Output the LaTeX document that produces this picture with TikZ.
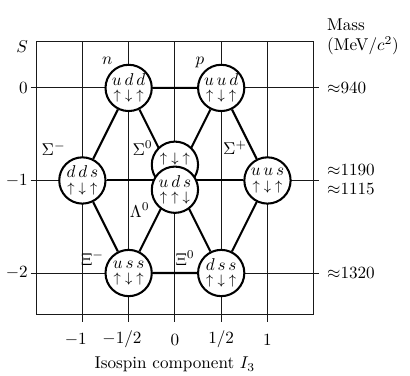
\documentclass[tikz,border=0pt]{standalone}
\usepackage{amsmath}
\usetikzlibrary{backgrounds}

% three spin arrows under the quark content
\newcommand{\spins}[3]{{\footnotesize$#1\mkern5mu#2\mkern5mu#3$}}

\begin{document}
\begin{tikzpicture}[x=1.9cm, y=1.9cm,
    hadron/.style={draw, circle, line width=1.2pt, fill=white, minimum size=0.95cm, inner sep=0pt, align=center},
    link/.style={line width=1.2pt},
    gridline/.style={line width=0.55pt, black!90}]

    \useasboundingbox (-1.89,-3.11) rectangle (2.54,0.95);

    % Baryons of the octet
    \node[hadron] (n) at (-0.5,0) {$u\,d\,d$\\[-3.5pt]\spins\uparrow\downarrow\uparrow};
    \node[hadron] (p) at (0.5,0) {$u\,u\,d$\\[-3.5pt]\spins\uparrow\downarrow\uparrow};
    \node[hadron] (sigm) at (-1,-1) {$d\,d\,s$\\[-3.5pt]\spins\uparrow\downarrow\uparrow};
    \node[hadron] (sigp) at (1,-1) {$u\,u\,s$\\[-3.5pt]\spins\uparrow\downarrow\uparrow};
    \node[hadron] (sig0) at (0,-0.83) {\spins\uparrow\downarrow\uparrow\\[-3.5pt]\phantom{$u\,d\,s$}};
    \node[hadron] (lam) at (0,-1.1) {$u\,d\,s$\\[-3.5pt]\spins\uparrow\uparrow\downarrow};
    \node[hadron] (uss) at (-0.5,-2) {$u\,s\,s$\\[-3.5pt]\spins\uparrow\downarrow\uparrow};
    \node[hadron] (dss) at (0.5,-2) {$d\,s\,s$\\[-3.5pt]\spins\uparrow\downarrow\uparrow};
    \coordinate (mid) at (0,-1);

    % Grid and hexagon behind the circles
    \begin{scope}[on background layer]
        \draw[gridline] (-1.5,-2.45) rectangle (1.5,0.5);
        \foreach \x in {-1,-0.5,0,0.5,1}
            \draw[gridline] (\x,0.5) -- (\x,-2.53);
        \foreach \y in {0,-1,-2}
            \draw[gridline] (-1.56,\y) -- (1.56,\y);
        \draw[link] (n) -- (p) (p) -- (sigp) (sigp) -- (dss)
            (dss) -- (uss) (uss) -- (sigm) (sigm) -- (n);
        \draw[link] (sigm) -- (sigp);
        \draw[link] (n) -- (mid) (p) -- (mid);
        \draw[link] (uss) -- (mid) (dss) -- (mid);
    \end{scope}

    % Particle names
    \node (nname) at (-0.73,0.29) {$n$};
    \node (pname) at (0.27,0.28) {$p$};
    \node (sigmname) at (-1.31,-0.66) {$\Sigma^-$};
    \node (sig0name) at (-0.35,-0.65) {$\Sigma^0$};
    \node (sigpname) at (0.65,-0.65) {$\Sigma^+$};
    \node (lamname) at (-0.38,-1.32) {$\Lambda^0$};
    \node (ximname) at (-0.89,-1.84) {$\Xi^-$};
    \node (xi0name) at (0.11,-1.84) {$\Xi^0$};

    % Strangeness axis
    \node (saxis) at (-1.65,0.45) {$S$};
    \node[left, inner sep=1.5pt] (s0) at (-1.56,0) {$0$};
    \node[left, inner sep=1.5pt] (s1) at (-1.56,-1) {$-1$};
    \node[left, inner sep=1.5pt] (s2) at (-1.56,-2) {$-2$};

    % Isospin axis
    \node (i1) at (-1,-2.72) {\llap{$-$}$1$};
    \node (i2) at (-0.5,-2.72) {\llap{$-$}$1/2$};
    \node (i3) at (0,-2.72) {$0$};
    \node (i4) at (0.5,-2.72) {$1/2$};
    \node (i5) at (1,-2.72) {$1$};
    \node (ilabel) at (0,-2.99) {Isospin component $I_3$};

    % Masses
    \node[anchor=west, align=left] (mass) at (1.58,0.55) {Mass\\(MeV$/c^2$)};
    \node[anchor=west] (m940) at (1.58,0) {$\approx$940};
    \node[anchor=west] (m1190) at (1.58,-0.885) {$\approx$1190};
    \node[anchor=west] (m1115) at (1.58,-1.09) {$\approx$1115};
    \node[anchor=west] (m1320) at (1.58,-2) {$\approx$1320};

\end{tikzpicture}
\end{document}
